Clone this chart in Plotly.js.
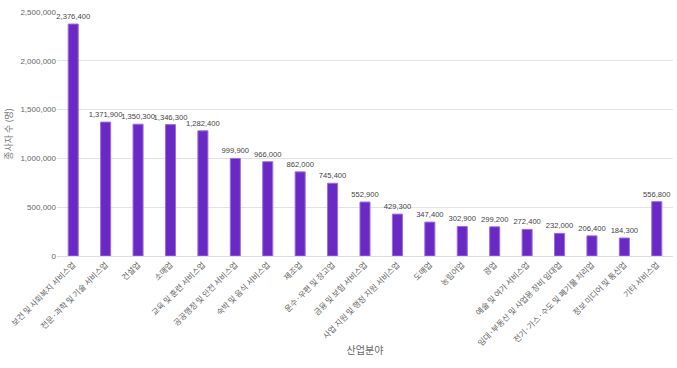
<!DOCTYPE html>
<html><head><meta charset="utf-8">
<script src="https://cdn.plot.ly/plotly-3.0.1.min.js"></script>
<style>html,body{margin:0;padding:0;background:#fff}#c{width:677px;height:368px}</style>
</head><body><div id="c"></div>
<script>
const categories = ["보건 및 사회복지 서비스업","전문·과학 및 기술 서비스업","건설업","소매업","교육 및 훈련 서비스업","공공행정 및 안전 서비스업","숙박 및 음식 서비스업","제조업","운수·우편 및 창고업","금융 및 보험 서비스업","사업 지원 및 행정 지원 서비스업","도매업","농림어업","광업","예술 및 여가 서비스업","임대·부동산 및 사업용 장비 임대업","전기·가스·수도 및 폐기물 처리업","정보 미디어 및 통신업","기타 서비스업"];
const workers = [2376400,1371900,1350300,1346300,1282400,999900,966000,862000,745400,552900,429300,347400,302900,299200,272400,232000,206400,184300,556800];
const yTicks = [0,500000,1000000,1500000,2000000,2500000];

Plotly.newPlot('c',[{
  type:'bar', x:categories, y:workers,
  text:workers.map(v=>v.toLocaleString('en-US')), textposition:'outside', cliponaxis:false, constraintext:'none',
  textfont:{size:7.6,color:'#444',family:'Arial, Liberation Sans, sans-serif'},
  marker:{color:'#6a28c4',line:{color:'#9b6ee0',width:1}},
  width:0.31, hoverinfo:'none'
}],{
  width:677,height:368,
  margin:{l:57,r:4,t:12,b:112},
  paper_bgcolor:'#fff',plot_bgcolor:'#fff',
  font:{family:'"Noto Sans CJK KR", Arial, sans-serif',size:9,color:'#666'},
  showlegend:false,
  xaxis:{tickangle:-45,tickfont:{size:8,color:'#666'},showgrid:false,showline:true,linecolor:'#ddd',ticks:'',
    title:{text:'산업분야',font:{size:10,color:'#666'},standoff:0}},
  yaxis:{range:[0,2500000],tickvals:yTicks,tickformat:',',gridcolor:'#e3e3e3',zeroline:false,showline:false,ticks:'',
    tickfont:{size:8,color:'#666',family:'Arial, Liberation Sans, sans-serif'},
    title:{text:'종사자 수 (명)',font:{size:9,color:'#777'},standoff:6}},
  bargap:0.69
},{displayModeBar:false,staticPlot:true});
</script></body></html>
